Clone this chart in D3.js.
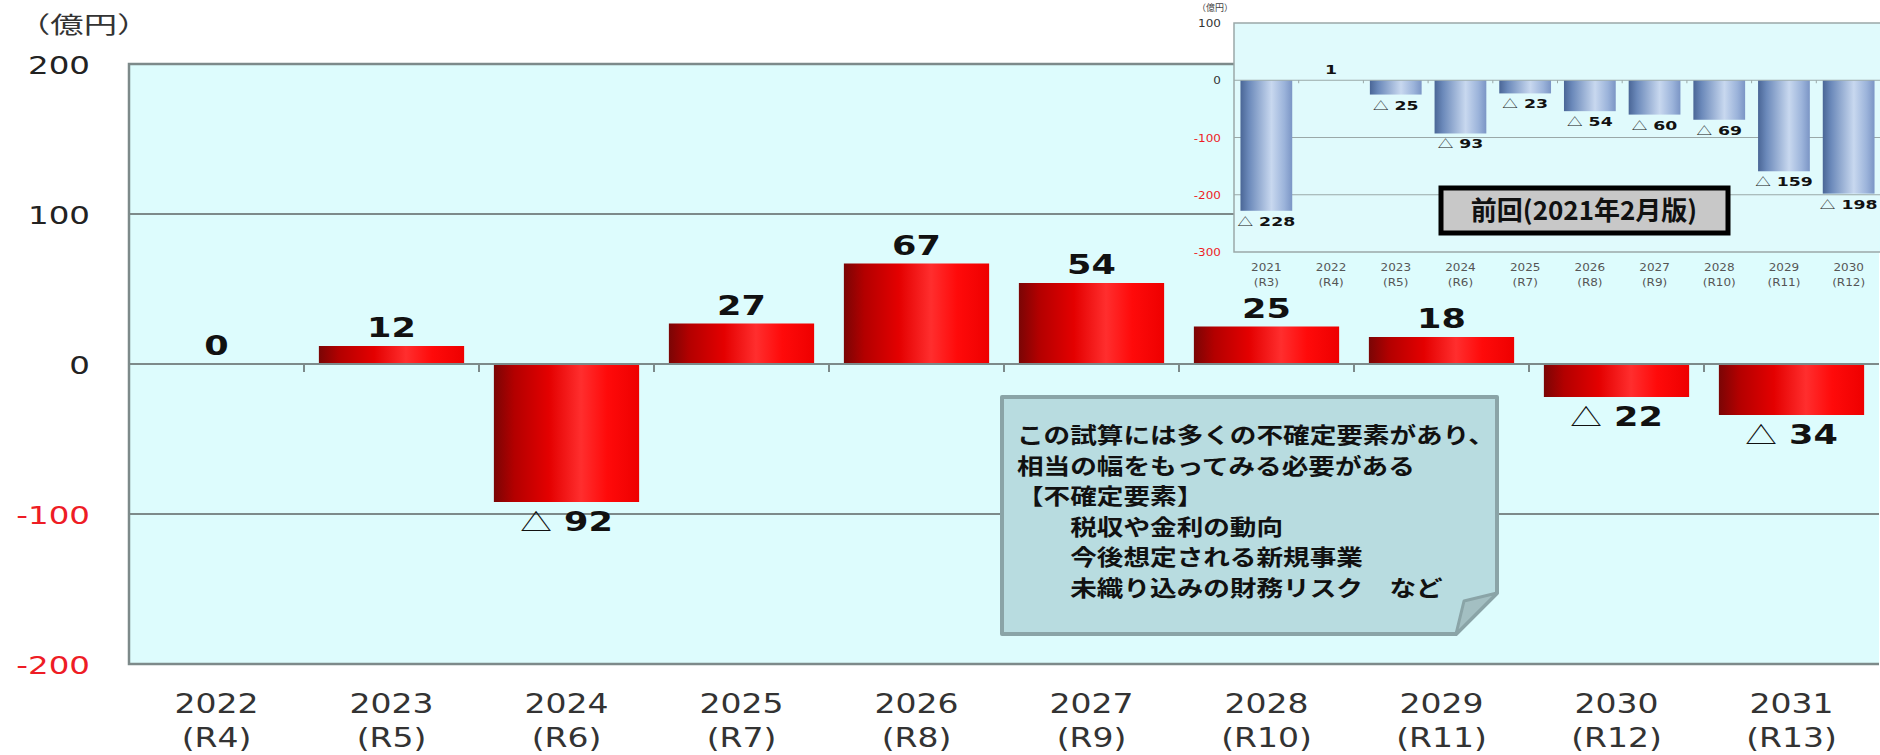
<!DOCTYPE html>
<html lang="ja">
<head>
<meta charset="utf-8">
<title>収支見通し</title>
<script src="https://cdn.jsdelivr.net/npm/d3@7"></script>
<style>
  html, body { margin: 0; padding: 0; background: #fff; }
  svg { display: block; }
</style>
</head>
<body>
<div id="chart"></div>
<script>
// values
const years = ['2022', '2023', '2024', '2025', '2026', '2027', '2028', '2029', '2030', '2031'];
const reiwa = ['(R4)', '(R5)', '(R6)', '(R7)', '(R8)', '(R9)', '(R10)', '(R11)', '(R12)', '(R13)'];
const balance = [0, 12, -92, 27, 67, 54, 25, 18, -22, -34];
const yTicks = [200, 100, 0, -100, -200];
const gridValues = [100, -100];
const unitLabel = '（億円）';

// previous estimate (inset)
const prevYears = ['2021', '2022', '2023', '2024', '2025', '2026', '2027', '2028', '2029', '2030'];
const prevReiwa = ['(R3)', '(R4)', '(R5)', '(R6)', '(R7)', '(R8)', '(R9)', '(R10)', '(R11)', '(R12)'];
const prevBalance = [-228, 1, -25, -93, -23, -54, -60, -69, -159, -198];
const prevTicks = [100, 0, -100, -200, -300];
const prevGrid = [-100, -200];
const prevTitle = '前回(2021年2月版)';

const noteLines = [
  'この試算には多くの不確定要素があり、',
  '相当の幅をもってみる必要がある',
  '【不確定要素】',
  '　　税収や金利の動向',
  '　　今後想定される新規事業',
  '　　未織り込みの財務リスク　など'
];

const W = 1880, H = 755;
const LATIN = 'DejaVu Sans';
const CJK = 'Noto Sans CJK JP';
const SX = 1.3; // picture is stretched sideways
const GRID = '#7d8a8a';

const svg = d3.select('#chart').append('svg')
  .attr('width', W)
  .attr('height', H)
  .attr('viewBox', `0 0 ${W} ${H}`);

const defs = svg.append('defs');

function gradient(id, stops) {
  const g = defs.append('linearGradient').attr('id', id)
    .attr('x1', 0).attr('x2', 1).attr('y1', 0).attr('y2', 0);
  stops.forEach(s => g.append('stop').attr('offset', s[0]).attr('stop-color', s[1]));
}
gradient('redBar', [[0, '#7a0505'], [0.14, '#b30000'], [0.38, '#e40000'], [0.6, '#ff2e2e'], [0.78, '#ff0a0a'], [1, '#ee0000']]);
gradient('blueBar', [[0, '#4a6696'], [0.16, '#6b89ba'], [0.6, '#c8d8ef'], [0.85, '#9bb3da'], [1, '#7b95c5']]);

function place(t, x, yPos, sx) {
  return t.attr('transform', `translate(${x},${yPos}) scale(${sx},1)`);
}

// ---------------- main chart ----------------
const plot = { left: 129, right: 1879, top: 64, bottom: 664 };

const x = d3.scaleBand().domain(years).range([plot.left, plot.right]);
const y = d3.scaleLinear().domain([-200, 200]).range([plot.bottom, plot.top]);
const barW = x.bandwidth() * 0.83;

svg.append('rect')
  .attr('x', plot.left).attr('y', plot.top)
  .attr('width', plot.right - plot.left).attr('height', plot.bottom - plot.top)
  .attr('fill', '#ddfcfd');

svg.append('g').selectAll('line')
  .data(gridValues)
  .join('line')
  .attr('x1', plot.left).attr('x2', plot.right)
  .attr('y1', d => y(d)).attr('y2', d => y(d))
  .attr('stroke', GRID).attr('stroke-width', 2);

const data = balance.map((v, i) => ({ v, year: years[i], r: reiwa[i] }));

svg.append('g').selectAll('rect')
  .data(data.filter(d => d.v !== 0))
  .join('rect')
  .attr('x', d => x(d.year) + (x.bandwidth() - barW) / 2)
  .attr('y', d => y(Math.max(0, d.v)))
  .attr('width', barW)
  .attr('height', d => Math.abs(y(d.v) - y(0)))
  .attr('fill', 'url(#redBar)');

// zero line with ticks between categories
svg.append('line')
  .attr('x1', plot.left).attr('x2', plot.right)
  .attr('y1', y(0)).attr('y2', y(0))
  .attr('stroke', GRID).attr('stroke-width', 2);
svg.append('g').selectAll('line')
  .data(years.slice(1))
  .join('line')
  .attr('x1', d => x(d)).attr('x2', d => x(d))
  .attr('y1', y(0)).attr('y2', y(0) + 8)
  .attr('stroke', GRID).attr('stroke-width', 2);

// frame: left, top, bottom
svg.append('path')
  .attr('d', `M${plot.right},${plot.top}H${plot.left}V${plot.bottom}H${plot.right}`)
  .attr('fill', 'none').attr('stroke', GRID).attr('stroke-width', 2.5);

// y axis
const yg = svg.append('g')
  .attr('transform', `translate(${plot.left},0)`)
  .call(d3.axisLeft(y).tickValues(yTicks).tickSize(0).tickFormat(d => String(d)));
yg.select('.domain').remove();
yg.selectAll('text')
  .attr('x', null)
  .attr('dy', '0.36em')
  .attr('transform', `translate(-39,0) scale(${SX},1)`)
  .attr('font-family', LATIN)
  .attr('font-size', 25)
  .attr('fill', d => d < 0 ? '#ee1c25' : '#222');

place(svg.append('text'), 17, 33, 1.45)
  .attr('font-family', CJK).attr('font-size', 23).attr('fill', '#333')
  .text(unitLabel);

// category labels
const cat = svg.append('g').attr('font-family', LATIN).attr('font-size', 26)
  .attr('fill', '#333').attr('text-anchor', 'middle');
cat.selectAll('text.yr').data(data).join('text').attr('class', 'yr')
  .each(function (d) { place(d3.select(this), x(d.year) + x.bandwidth() / 2, 713, 1.27); })
  .text(d => d.year);
cat.selectAll('text.rw').data(data).join('text').attr('class', 'rw')
  .each(function (d) { place(d3.select(this), x(d.year) + x.bandwidth() / 2, 747, 1.27); })
  .text(d => d.r);

// value labels
function valueLabels(g, rows, xs, ys, size, sx, above, below) {
  g.selectAll('text').data(rows).join('text')
    .attr('font-family', LATIN).attr('font-weight', 'bold')
    .attr('font-size', size).attr('fill', '#111').attr('text-anchor', 'middle')
    .each(function (d) {
      const t = d3.select(this);
      const cx = xs(d.year) + xs.bandwidth() / 2;
      if (d.v < 0) {
        place(t, cx, ys(d.v) + below, sx);
        t.append('tspan').attr('font-family', CJK).attr('font-weight', 400)
          .attr('font-size', size * 0.9).text('△');
        t.append('tspan').text(' ' + Math.abs(d.v));
      } else {
        place(t, cx, ys(d.v) - above, sx);
        t.text(d.v);
      }
    });
}
valueLabels(svg.append('g'), data, x, y, 27, SX, 9, 29);

// note box with folded corner
const note = { x0: 1002, y0: 397, x1: 1497, y1: 634, fold: 41 };
svg.append('path')
  .attr('d', `M${note.x0},${note.y0}H${note.x1}V${note.y1 - note.fold}L${note.x1 - note.fold},${note.y1}H${note.x0}Z`)
  .attr('fill', '#b8dce0').attr('stroke', '#8aa4a7').attr('stroke-width', 4)
  .attr('stroke-linejoin', 'round');
svg.append('path')
  .attr('d', `M${note.x1 - note.fold},${note.y1}L${note.x1 - note.fold + 8},${note.y1 - note.fold + 8}L${note.x1},${note.y1 - note.fold}Z`)
  .attr('fill', '#a3bfc2').attr('stroke', '#8aa4a7').attr('stroke-width', 3)
  .attr('stroke-linejoin', 'round');
svg.append('g').selectAll('text').data(noteLines).join('text')
  .attr('font-family', CJK).attr('font-weight', 'bold').attr('font-size', 22).attr('fill', '#111')
  .each(function (d, i) { place(d3.select(this), 1017, 443 + i * 30.5, 1.21); })
  .text(d => d);

// ---------------- inset: previous estimate ----------------
const ip = { left: 1234, right: 1881, top: 23, bottom: 252 };
const ix = d3.scaleBand().domain(prevYears).range([ip.left, ip.right]);
const iy = d3.scaleLinear().domain([-300, 100]).range([ip.bottom, ip.top]);
const ibarW = ix.bandwidth() * 0.8;
const prev = prevBalance.map((v, i) => ({ v, year: prevYears[i], r: prevReiwa[i] }));

svg.append('rect')
  .attr('x', ip.left).attr('y', ip.top)
  .attr('width', ip.right - ip.left).attr('height', ip.bottom - ip.top)
  .attr('fill', '#e0fafc');
svg.append('g').selectAll('line').data(prevGrid).join('line')
  .attr('x1', ip.left).attr('x2', ip.right)
  .attr('y1', d => iy(d)).attr('y2', d => iy(d))
  .attr('stroke', '#9aa8a8').attr('stroke-width', 1.2);

svg.append('g').selectAll('rect')
  .data(prev.filter(d => Math.abs(d.v) > 1))
  .join('rect')
  .attr('x', d => ix(d.year) + (ix.bandwidth() - ibarW) / 2)
  .attr('y', d => iy(Math.max(0, d.v)))
  .attr('width', ibarW)
  .attr('height', d => Math.abs(iy(d.v) - iy(0)))
  .attr('fill', 'url(#blueBar)');

svg.append('line')
  .attr('x1', ip.left).attr('x2', ip.right)
  .attr('y1', iy(0)).attr('y2', iy(0))
  .attr('stroke', '#9aa8a8').attr('stroke-width', 1.2);
svg.append('g').selectAll('line').data(prevYears.slice(1)).join('line')
  .attr('x1', d => ix(d)).attr('x2', d => ix(d))
  .attr('y1', iy(0)).attr('y2', iy(0) + 3)
  .attr('stroke', '#9aa8a8').attr('stroke-width', 1);
svg.append('path')
  .attr('d', `M${ip.right},${ip.top}H${ip.left}V${ip.bottom}H${ip.right}`)
  .attr('fill', 'none').attr('stroke', '#9aa8a8').attr('stroke-width', 1.5);

const iyg = svg.append('g')
  .attr('transform', `translate(${ip.left},0)`)
  .call(d3.axisLeft(iy).tickValues(prevTicks).tickSize(0).tickFormat(d => String(d)));
iyg.select('.domain').remove();
iyg.selectAll('text')
  .attr('x', null)
  .attr('dy', '0.36em')
  .attr('transform', `translate(-13,0) scale(1.2,1)`)
  .attr('font-family', LATIN)
  .attr('font-size', 10)
  .attr('fill', d => d < 0 ? '#ee1c25' : '#333');

svg.append('text')
  .attr('x', 1197).attr('y', 11)
  .attr('font-family', CJK).attr('font-size', 9).attr('fill', '#444')
  .text(unitLabel);

const icat = svg.append('g').attr('font-family', LATIN).attr('font-size', 10)
  .attr('fill', '#555').attr('text-anchor', 'middle');
icat.selectAll('text.yr').data(prev).join('text').attr('class', 'yr')
  .each(function (d) { place(d3.select(this), ix(d.year) + ix.bandwidth() / 2, 271, 1.2); })
  .text(d => d.year);
icat.selectAll('text.rw').data(prev).join('text').attr('class', 'rw')
  .each(function (d) { place(d3.select(this), ix(d.year) + ix.bandwidth() / 2, 286, 1.2); })
  .text(d => d.r);

valueLabels(svg.append('g'), prev, ix, iy, 13, 1.33, 6, 15);

// "previous" tag
svg.append('rect')
  .attr('x', 1441).attr('y', 188).attr('width', 287).attr('height', 45)
  .attr('fill', '#c8c8c8').attr('stroke', '#000').attr('stroke-width', 5);
svg.append('text')
  .attr('x', 1584).attr('y', 220)
  .attr('text-anchor', 'middle')
  .attr('font-family', CJK).attr('font-weight', 'bold').attr('font-size', 26).attr('fill', '#111')
  .text(prevTitle);
</script>
</body>
</html>
